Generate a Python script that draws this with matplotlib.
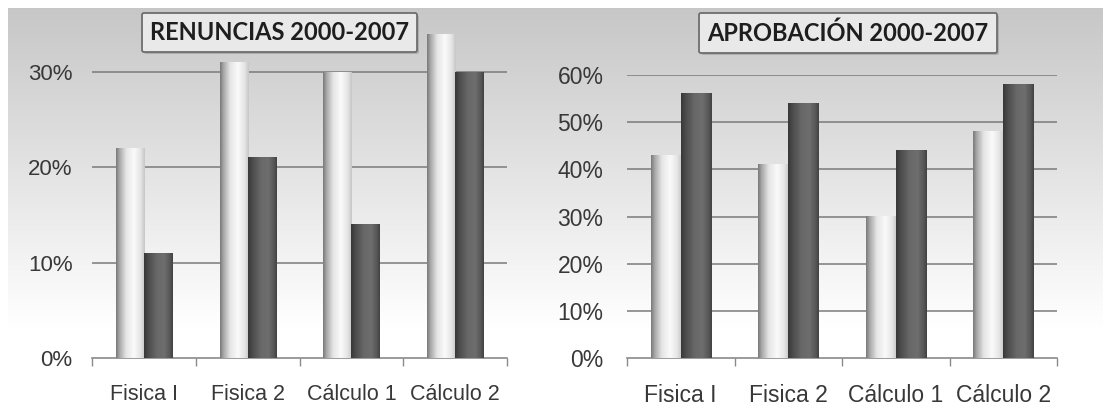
import numpy as np
import matplotlib
matplotlib.use("Agg")
import matplotlib.pyplot as plt
from matplotlib.patches import FancyBboxPatch

# Data
categories = ["Fisica I", "Fisica 2", "Cálculo 1", "Cálculo 2"]
renuncias_a = [0.22, 0.31, 0.30, 0.34]
renuncias_b = [0.11, 0.21, 0.14, 0.30]
aprobacion_a = [0.43, 0.41, 0.30, 0.48]
aprobacion_b = [0.56, 0.54, 0.44, 0.58]
renuncias_ticks = [0.0, 0.1, 0.2, 0.3]
aprobacion_ticks = [0.0, 0.1, 0.2, 0.3, 0.4, 0.5, 0.6]

W, H = 1103, 408
fig = plt.figure(figsize=(W / 100, H / 100), dpi=100)
fig.patch.set_facecolor("white")

# Vertical grey-to-white backdrop
bg = fig.add_axes([8 / W, 0, 1 - 8 / W, 1 - 8 / H])
bg.set_axis_off()
ys = np.linspace(0, 1, 400)
shade = np.clip(0.78 + 0.22 * (ys / 0.80), 0, 1)
grad = np.repeat(shade[:, None], 2, axis=1)
bg.imshow(np.dstack([grad, grad, grad]), aspect="auto", extent=[0, 1, 1, 0],
          interpolation="bilinear", vmin=0, vmax=1)
bg.set_xlim(0, 1)
bg.set_ylim(1, 0)

TEXT = "#383838"
GRID = "#7a7a7a"


def profile(kind, n=64):
    t = np.linspace(0, 1, n)
    if kind == "light":
        pts_x = [0.0, 0.12, 0.35, 0.62, 0.85, 1.0]
        pts_v = [0.48, 0.66, 0.90, 0.98, 0.90, 0.78]
    else:
        pts_x = [0.0, 0.15, 0.45, 0.70, 0.90, 1.0]
        pts_v = [0.22, 0.30, 0.41, 0.43, 0.34, 0.26]
    v = np.interp(t, pts_x, pts_v)
    return np.dstack([v, v, v]).reshape(1, n, 3)


def shaded_bars(ax, xs, vals, width, kind):
    img = profile(kind)
    for x, v in zip(xs, vals):
        ax.imshow(img, aspect="auto", extent=[x - width / 2, x + width / 2, 0, v],
                  interpolation="bilinear", zorder=3)


def panel(rect, a, b, ticks, ymax, width, off, tsize, xsize, ypad, xpad):
    ax = fig.add_axes(rect)
    ax.set_facecolor("none")
    x = np.arange(len(categories))
    shaded_bars(ax, x - off, a, width, "light")
    shaded_bars(ax, x + off, b, width, "dark")
    ax.set_xlim(-0.5, len(categories) - 0.5)
    ax.set_ylim(0, ymax)
    ax.set_yticks(ticks)
    ax.set_yticklabels([f"{int(round(t * 100))}%" for t in ticks])
    for t in ticks[1:]:
        ax.axhline(t, color=GRID, lw=1.1, zorder=1)
    ax.set_xticks(x)
    ax.set_xticklabels(categories)
    ax.set_xticks(np.arange(-0.5, len(categories)), minor=True)
    ax.tick_params(axis="x", which="major", length=0, pad=xpad, labelsize=xsize,
                   labelcolor=TEXT)
    ax.tick_params(axis="x", which="minor", length=6, color="#8a8a8a", width=1)
    ax.tick_params(axis="y", length=0, pad=ypad, labelsize=tsize, labelcolor=TEXT)
    for s in ["top", "right", "left"]:
        ax.spines[s].set_visible(False)
    ax.spines["bottom"].set_color("#8a8a8a")
    ax.spines["bottom"].set_linewidth(1.2)
    for lab in ax.get_xticklabels() + ax.get_yticklabels():
        lab.set_fontfamily("Liberation Sans")
    return ax


panel([92 / W, 50 / H, 415 / W, 333.5 / H], renuncias_a, renuncias_b,
      renuncias_ticks, 0.35, 0.27, 0.135, 16, 15.5, 14, 19)
panel([627 / W, 50 / H, 430 / W, 283 / H], aprobacion_a, aprobacion_b,
      aprobacion_ticks, 0.60, 0.28, 0.14, 16.5, 16.5, 17, 19)


def title_box(x0, y0, x1, y1, text):
    # drop shadow then framed box, in pixel coordinates
    sh = FancyBboxPatch((x0 + 2, H - y1 - 2), x1 - x0, y1 - y0,
                        boxstyle="round,pad=0,rounding_size=2",
                        transform=None, facecolor="#9a9a9a", edgecolor="none",
                        alpha=0.6, zorder=10)
    bx = FancyBboxPatch((x0, H - y1), x1 - x0, y1 - y0,
                        boxstyle="round,pad=0,rounding_size=2",
                        transform=None, facecolor="#e9e9e9", edgecolor="#6e6e6e",
                        linewidth=1.3, zorder=11)
    fig.patches.extend([sh, bx])
    fig.text((x0 + x1) / 2 / W, 1 - (y0 + y1) / 2 / H, text, ha="center",
             va="center", fontsize=17, fontweight="bold", family="Lato",
             color="#1e1e1e", zorder=12)


title_box(142, 13, 417, 52, "RENUNCIAS 2000-2007")
title_box(699, 13, 997, 53, "APROBACIÓN 2000-2007")

fig.savefig("out.png", dpi=100)
